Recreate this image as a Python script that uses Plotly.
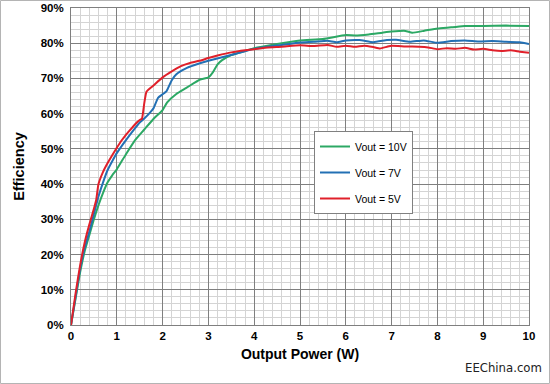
import plotly.graph_objects as go

# ---- data ----
p_5v = [0, 0.1, 0.2, 0.3, 0.4, 0.5, 0.55, 0.6, 0.7, 0.8, 0.9, 1.0, 1.1, 1.2, 1.3, 1.4, 1.5, 1.55, 1.6, 1.65,
        1.8, 2.0, 2.2, 2.4, 2.6, 2.8, 3.0, 3.2, 3.5, 3.8, 4.0, 4.3, 4.6, 5.0, 5.3, 5.6, 5.8, 6.0, 6.2, 6.4,
        6.6, 6.75, 6.9, 7.0, 7.3, 7.6, 7.8, 8.0, 8.2, 8.4, 8.6, 8.8, 9.0, 9.2, 9.4, 9.6, 9.8, 10.0]
e_5v = [0, 9, 17, 23.5, 28.5, 33, 35.5, 40, 43.5, 46, 48.2, 50.3, 52.3, 54, 55.5, 57, 58.2, 58.6, 63, 66.3,
        68, 70.3, 72, 73.5, 74.4, 75, 75.8, 76.5, 77.4, 78, 78.3, 78.8, 79, 79.4, 79.2, 79.5, 79.0, 79.3, 79.0, 79.3,
        78.9, 78.5, 79.0, 79.3, 79.1, 79.0, 78.8, 78.3, 78.6, 78.4, 78.7, 78.2, 78.4, 78.0, 77.8, 78.0, 77.6, 77.3]

p_7v = [0, 0.1, 0.2, 0.3, 0.4, 0.5, 0.6, 0.7, 0.8, 0.9, 1.0, 1.2, 1.4, 1.5, 1.6, 1.72, 1.8, 1.9, 2.0, 2.09,
        2.2, 2.3, 2.5, 2.7, 3.0, 3.3, 3.6, 4.0, 4.3, 4.6, 5.0, 5.3, 5.6, 5.8, 6.0, 6.3, 6.6, 6.9, 7.1, 7.4,
        7.7, 8.0, 8.3, 8.6, 8.9, 9.2, 9.5, 9.8, 10.0]
e_7v = [0, 8, 16, 22, 26.5, 31.5, 36.5, 40.5, 44, 46.5, 48.8, 52.5, 55.9, 57.5, 58.6, 60.2, 61.5, 64.5, 65.5, 66.5,
        69.5, 71.2, 72.8, 73.8, 75, 76, 77, 78.4, 79, 79.5, 80.2, 80.4, 80.7, 80.3, 80.8, 80.9, 80.3, 80.9, 81.0, 80.4,
        80.8, 80.1, 80.6, 80.8, 80.5, 80.6, 80.4, 80.3, 79.8]

p_10v = [0, 0.1, 0.2, 0.3, 0.4, 0.5, 0.6, 0.7, 0.8, 0.9, 1.0, 1.2, 1.4, 1.6, 1.8, 2.0, 2.1, 2.3, 2.5, 2.7,
         2.82, 3.0, 3.1, 3.2, 3.3, 3.5, 3.8, 4.0, 4.5, 5.0, 5.5, 6.0, 6.2, 6.5, 6.8, 7.0, 7.3, 7.45, 7.7, 8.0,
         8.3, 8.6, 9.0, 9.5, 10.0]
e_10v = [0, 7.5, 15, 21, 25.5, 30, 34, 37.5, 40.5, 42.5, 44.2, 48.5, 52.5, 55.5, 58.5, 61, 63.2, 65.6, 67.2, 68.8,
         69.7, 70.3, 71.8, 74, 75.2, 76.6, 77.8, 78.6, 79.8, 80.8, 81.2, 82.3, 82.2, 82.5, 83, 83.3, 83.5, 83.0, 83.5, 84.2,
         84.5, 84.9, 84.9, 85, 84.9]

series_names = ["Vout = 10V", "Vout = 7V", "Vout = 5V"]
series = [
    (series_names[0], p_10v, e_10v, "#2ca864"),
    (series_names[1], p_7v, e_7v, "#2370b4"),
    (series_names[2], p_5v, e_5v, "#e0202a"),
]

x_ticks = [0, 1, 2, 3, 4, 5, 6, 7, 8, 9, 10]
y_ticks = [0, 10, 20, 30, 40, 50, 60, 70, 80, 90]
y_tick_labels = [f"{v}%" for v in y_ticks]

fig = go.Figure()
for i, (name, xs, ys, col) in enumerate(series):
    fig.add_trace(go.Scatter(x=xs, y=ys, mode="lines", name=name,
                             legendgroup=f"g{i}",
                             line=dict(color=col, width=2, shape="spline", smoothing=0.4)))

L, R, T, B = 71, 21, 8, 59
W, H = 550, 384
pw, ph = W - L - R, H - T - B

fig.update_layout(
    width=W, height=H,
    margin=dict(l=L, r=R, t=T, b=B),
    paper_bgcolor="white", plot_bgcolor="white",
    font=dict(family="Liberation Sans, Arial, sans-serif", color="#000"),
    showlegend=True,
    legend=dict(x=(314 - L) / pw, y=(H - B - 131) / ph, xanchor="left", yanchor="top",
                bgcolor="white", bordercolor="#808080", borderwidth=1,
                font=dict(size=10.5, color="#000"), tracegroupgap=7,
                entrywidth=83, entrywidthmode="pixels"),
    xaxis=dict(range=[0, 10], tickvals=x_ticks, ticktext=[str(v) for v in x_ticks],
               automargin=False,
               showgrid=True, gridcolor="#7f7f7f", gridwidth=1,
               minor=dict(dtick=0.2, showgrid=True, gridcolor="#d4d4d4", gridwidth=1),
               showline=True, linecolor="#7f7f7f", linewidth=1, mirror=True,
               ticks="", zeroline=False,
               tickfont=dict(size=11.5, family="Liberation Sans, Arial, sans-serif", weight="bold"),
               title=dict(text="<b>Output Power (W)</b>", font=dict(size=14), standoff=8)),
    yaxis=dict(range=[0, 90], tickvals=y_ticks, ticktext=y_tick_labels,
               automargin=False,
               showgrid=True, gridcolor="#7f7f7f", gridwidth=1,
               minor=dict(dtick=2, showgrid=True, gridcolor="#d4d4d4", gridwidth=1),
               showline=True, linecolor="#7f7f7f", linewidth=1, mirror=True,
               ticks="", zeroline=False, ticklabelstandoff=4,
               tickfont=dict(size=11.5, family="Liberation Sans, Arial, sans-serif", weight="bold"),
               title=dict(text="<b>Efficiency</b>", font=dict(size=14.5), standoff=12)),
)

# outer frame around the whole picture
fig.add_shape(type="rect", xref="paper", yref="paper",
              x0=-(L - 0.5) / pw, x1=1 + (R - 0.5) / pw,
              y0=-(B - 0.5) / ph, y1=1 + (T - 0.5) / ph,
              line=dict(color="#b4b4b4", width=1), layer="below")

fig.add_annotation(text="EEChina.com", xref="paper", yref="paper",
                   x=1 + (R - 6) / pw, y=-(B - 7) / ph, xanchor="right", yanchor="bottom",
                   showarrow=False, font=dict(size=13, color="#222", family="DejaVu Sans Condensed, Liberation Sans, sans-serif"))

fig.write_html("out.html", config={"displayModeBar": False},
               post_script="document.body.style.margin='0';document.body.style.padding='0';")
